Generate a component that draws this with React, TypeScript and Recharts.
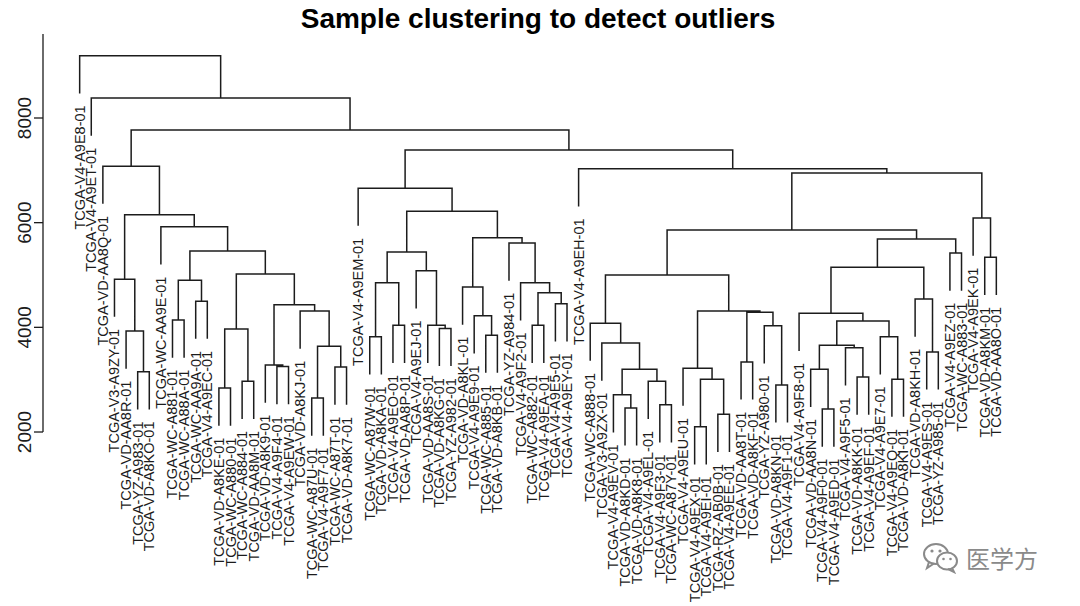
import React from "react"
import { ComposedChart, Line, Scatter, XAxis, YAxis, ReferenceLine } from "recharts"

// leaf order, left to right
const leaves = [
  "TCGA-V4-A9E8-01", "TCGA-V4-A9ET-01", "TCGA-VD-AA8Q-01", "TCGA-V3-A9ZY-01", "TCGA-VD-AA8R-01",
  "TCGA-YZ-A983-01", "TCGA-VD-A8KO-01", "TCGA-WC-AA9E-01", "TCGA-WC-A881-01", "TCGA-WC-A88A-01",
  "TCGA-WC-AA9A-01", "TCGA-V4-A9EC-01", "TCGA-VD-A8KE-01", "TCGA-WC-A880-01", "TCGA-WC-A884-01",
  "TCGA-VD-AA8M-01", "TCGA-VD-A8K9-01", "TCGA-V4-A9F4-01", "TCGA-V4-A9EW-01", "TCGA-VD-A8KJ-01",
  "TCGA-WC-A87U-01", "TCGA-V4-A9F7-01", "TCGA-WC-A87T-01", "TCGA-VD-A8K7-01", "TCGA-V4-A9EM-01",
  "TCGA-WC-A87W-01", "TCGA-VD-A8KA-01", "TCGA-V4-A9EO-01", "TCGA-VD-AA8P-01", "TCGA-V4-A9EJ-01",
  "TCGA-VD-AA8S-01", "TCGA-VD-A8KG-01", "TCGA-YZ-A982-01", "TCGA-VD-A8KL-01", "TCGA-V4-A9E9-01",
  "TCGA-WC-A885-01", "TCGA-VD-A8KB-01", "TCGA-YZ-A984-01", "TCGA-V4-A9F2-01", "TCGA-WC-A882-01",
  "TCGA-V4-A9EA-01", "TCGA-V4-A9E5-01", "TCGA-V4-A9EY-01", "TCGA-V4-A9EH-01", "TCGA-WC-A888-01",
  "TCGA-V3-A9ZX-01", "TCGA-V4-A9EV-01", "TCGA-VD-A8KD-01", "TCGA-VD-A8K8-01", "TCGA-V4-A9EL-01",
  "TCGA-V4-A9F3-01", "TCGA-WC-A87Y-01", "TCGA-V4-A9EU-01", "TCGA-V4-A9EX-01", "TCGA-V4-A9EI-01",
  "TCGA-RZ-AB0B-01", "TCGA-V4-A9EE-01", "TCGA-VD-AA8T-01", "TCGA-VD-A8KF-01", "TCGA-YZ-A980-01",
  "TCGA-VD-A8KN-01", "TCGA-V4-A9F1-01", "TCGA-V4-A9F8-01", "TCGA-VD-AA8N-01", "TCGA-V4-A9F0-01",
  "TCGA-V4-A9ED-01", "TCGA-V4-A9F5-01", "TCGA-VD-A8KK-01", "TCGA-V4-A9EF-01", "TCGA-V4-A9E7-01",
  "TCGA-V4-A9EQ-01", "TCGA-VD-A8KI-01", "TCGA-VD-A8KH-01", "TCGA-V4-A9ES-01", "TCGA-YZ-A985-01",
  "TCGA-V4-A9EZ-01", "TCGA-WC-A883-01", "TCGA-V4-A9EK-01", "TCGA-VD-A8KM-01", "TCGA-VD-AA8O-01",
]

// hclust-style merge table: negative = leaf (1-based), positive = earlier row; then height
const merges: [number, number, number][] = [
  [-6, -7, 3150], [-5, 1, 3930], [-4, 2, 4920], [-9, -10, 4140], [-11, -12, 4500],
  [4, 5, 4900], [-13, -14, 2840], [-15, -16, 2970], [7, 8, 3970], [-18, -19, 3250],
  [-17, 10, 3280], [-21, -22, 2650], [-23, -24, 3240], [12, 13, 3640], [-20, 14, 4310],
  [11, 15, 4430], [9, 16, 5020], [6, 17, 5460], [-8, 18, 5920], [3, 19, 6150],
  [-3, 20, 7080], [-26, -27, 3820], [-28, -29, 4040], [22, 23, 4850], [-32, -33, 3980],
  [-31, 25, 4040], [-30, 26, 5080], [24, 27, 5440], [-36, -37, 3850], [-35, 29, 4220],
  [-34, 30, 4770], [-40, -41, 4040], [-42, -43, 4450], [32, 33, 4660], [-39, 34, 4850],
  [-38, 35, 5610], [31, 36, 5710], [28, 37, 6220], [-25, 38, 6660], [-48, -49, 2460],
  [-47, 40, 2710], [-51, -52, 2520], [-50, 42, 2970], [41, 43, 3200], [-46, 44, 3700],
  [-45, 45, 4080], [-54, -55, 2100], [-56, -57, 2340], [47, 48, 3010], [-53, 49, 3220],
  [-58, -59, 3340], [-61, -62, 2900], [-60, 52, 4030], [51, 53, 4290], [50, 54, 4310],
  [46, 55, 5000], [-65, -66, 2440], [-64, 57, 3200], [-68, -69, 3050], [-67, 59, 3610],
  [58, 60, 3660], [-71, -72, 3010], [-70, 62, 3820], [61, 63, 4120], [-63, 64, 4270],
  [-74, -75, 3530], [-73, 66, 4540], [65, 67, 5150], [-76, -77, 5420], [68, 69, 5690],
  [56, 70, 5860], [-79, -80, 5340], [-78, 72, 6090], [71, 73, 6950], [-44, 74, 7030],
  [39, 75, 7390], [21, 76, 7770], [-2, 77, 8380], [-1, 78, 9190],
]

const yTicks = [2000, 4000, 6000, 8000]
const HANG = 720
const X_MIN = -2.16
const X_MAX = 83.16
const Y_MIN = 1274
const Y_MAX = 9605

const FONT = "'Liberation Sans', Arial, sans-serif"
const INK = "#1c1c1c"

function buildTree() {
  const nodeX: number[] = []
  const nodeH: number[] = []
  const leafY: number[] = new Array(leaves.length).fill(0)
  const segs: { x: number; y: number | null }[] = []
  merges.forEach(([a, b, h], k) => {
    const coord = (c: number): [number, number] => {
      if (c < 0) {
        leafY[-c - 1] = h - HANG
        return [-c, h - HANG]
      }
      return [nodeX[c - 1], nodeH[c - 1]]
    }
    const [xl, yl] = coord(a)
    const [xr, yr] = coord(b)
    nodeX[k] = (xl + xr) / 2
    nodeH[k] = h
    segs.push({ x: xl, y: yl }, { x: xl, y: h }, { x: xr, y: h }, { x: xr, y: yr }, { x: xr, y: null })
  })
  const leafPts = leaves.map((name, i) => ({ x: i + 1, y: leafY[i], name }))
  return { segs, leafPts }
}

const { segs, leafPts } = buildTree()

const YTick = ({ x, y, payload }: any) => (
  <text
    x={x}
    y={y}
    transform={`rotate(-90 ${x} ${y})`}
    textAnchor="middle"
    fontSize={19}
    fontFamily={FONT}
    fill={INK}
  >
    {payload.value}
  </text>
)

const LeafLabel = (p: any) => (
  <text
    x={p.cx}
    y={p.cy}
    dx={-12}
    dy={5}
    transform={`rotate(-90 ${p.cx} ${p.cy})`}
    textAnchor="end"
    fontSize={14.5}
    fontFamily={FONT}
    fill={INK}
  >
    {p.payload.name}
  </text>
)

export default function App() {
  return (
    <div style={{ position: "absolute", left: 0, top: 0, width: 1080, height: 606, background: "#fff" }}>
      <div
        style={{
          position: "absolute", left: 43, width: 990, top: 5, textAlign: "center",
          fontFamily: FONT, fontWeight: "bold", fontSize: 28, lineHeight: 1, color: "#000",
        }}
      >
        Sample clustering to detect outliers
      </div>

      <ComposedChart width={1080} height={606} margin={{ top: 34, right: 47, bottom: 136, left: 0 }}>
        <XAxis type="number" dataKey="x" domain={[X_MIN, X_MAX]} hide />
        <YAxis
          type="number"
          dataKey="y"
          domain={[Y_MIN, Y_MAX]}
          ticks={yTicks}
          width={43}
          axisLine={false}
          tickLine={{ stroke: INK, strokeWidth: 1.3 }}
          tickSize={9}
          tickMargin={3}
          tick={<YTick />}
        />
        <ReferenceLine
          segment={[{ x: X_MIN, y: yTicks[0] }, { x: X_MIN, y: Y_MAX }]}
          stroke={INK}
          strokeWidth={1.3}
          ifOverflow="visible"
        />
        <Line
          data={segs}
          dataKey="y"
          type="linear"
          stroke={INK}
          strokeWidth={1.5}
          dot={false}
          activeDot={false}
          connectNulls={false}
          isAnimationActive={false}
        />
        <Scatter data={leafPts} dataKey="y" shape={<LeafLabel />} isAnimationActive={false} />
      </ComposedChart>

      <div
        style={{
          position: "absolute", left: 922, top: 540, display: "flex", alignItems: "center", gap: 6,
          color: "#8a8a8a", fontFamily: "'Noto Sans CJK SC', sans-serif", fontSize: 24,
        }}
      >
        <svg width="38" height="32" viewBox="0 0 38 32">
          <ellipse cx="14" cy="12" rx="12" ry="10" fill="none" stroke="#8a8a8a" strokeWidth="2" />
          <path d="M7 20 L5 26 L12 21.5" fill="none" stroke="#8a8a8a" strokeWidth="2" />
          <ellipse cx="25" cy="19" rx="10" ry="8.5" fill="#fff" stroke="#8a8a8a" strokeWidth="2" />
          <path d="M30 26 L32 30 L26 27" fill="none" stroke="#8a8a8a" strokeWidth="2" />
          <circle cx="10" cy="9" r="1.6" fill="#8a8a8a" />
          <circle cx="18" cy="9" r="1.6" fill="#8a8a8a" />
          <circle cx="21.5" cy="17" r="1.3" fill="#8a8a8a" />
          <circle cx="28.5" cy="17" r="1.3" fill="#8a8a8a" />
        </svg>
        <span>医学方</span>
      </div>
    </div>
  )
}
